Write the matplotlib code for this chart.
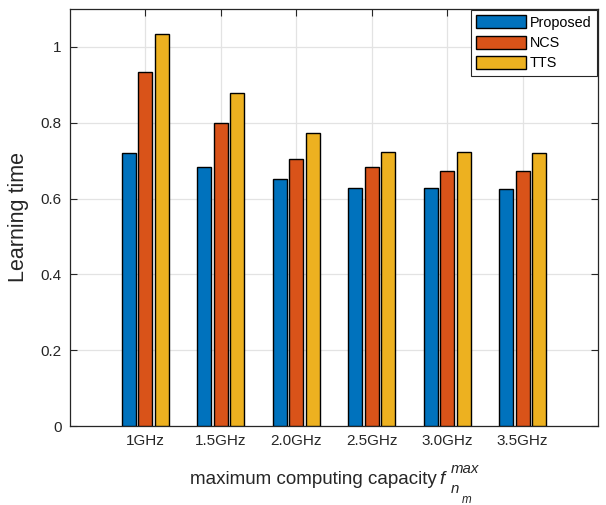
import matplotlib
matplotlib.use("Agg")
import matplotlib.pyplot as plt
import numpy as np

categories = ["1GHz", "1.5GHz", "2.0GHz", "2.5GHz", "3.0GHz", "3.5GHz"]
proposed = [0.720, 0.683, 0.651, 0.628, 0.627, 0.626]
ncs = [0.934, 0.800, 0.703, 0.683, 0.672, 0.672]
tts = [1.033, 0.879, 0.773, 0.723, 0.722, 0.720]
series_names = ["Proposed", "NCS", "TTS"]
series_colors = ["#0072BD", "#D95319", "#EDB120"]
y_ticks = [0, 0.2, 0.4, 0.6, 0.8, 1.0]
y_tick_labels = ["0", "0.2", "0.4", "0.6", "0.8", "1"]

plt.rcParams["font.family"] = ["Liberation Sans", "DejaVu Sans"]

axis_color = "#262626"
W, H = 606, 505

fig = plt.figure(figsize=(W / 100, H / 100), dpi=100)
ax = fig.add_axes([70 / W, 1 - 426 / H, 528 / W, 417 / H])

x = np.arange(1, len(categories) + 1)
offset = 0.22
width = 0.186
for i, (vals, name, col) in enumerate(zip([proposed, ncs, tts], series_names, series_colors)):
    ax.bar(x + (i - 1) * offset, vals, width, color=col, edgecolor="black",
           linewidth=1.0, label=name, zorder=3)

ax.set_xlim(0, 7)
ax.set_ylim(0, 1.1)
ax.set_xticks(x)
ax.set_xticklabels(categories)
ax.set_yticks(y_ticks)
ax.set_yticklabels(y_tick_labels)

ax.grid(True, color="#e3e3e3", linewidth=0.9, zorder=0)
ax.set_axisbelow(True)
ax.tick_params(direction="in", length=5, width=0.8, color=axis_color,
               labelcolor=axis_color, labelsize=11, top=True, right=True, pad=6)
for s in ax.spines.values():
    s.set_color(axis_color)
    s.set_linewidth(0.9)

ax.set_ylabel("Learning time", fontsize=15.5, color=axis_color, labelpad=8)


def px(xp, yp):
    return xp / W, 1 - yp / H


# x-axis label with the f_{n_m}^{max} symbol set piece by piece
fig.text(*px(436.5, 483.5), "maximum computing capacity", fontsize=13.5, color=axis_color,
         ha="right", va="baseline")
fig.text(*px(439, 484), "f", fontsize=13.5, color=axis_color, style="italic",
         ha="left", va="baseline")
fig.text(*px(450.5, 472.7), "max", fontsize=10.8, color=axis_color, style="italic",
         ha="left", va="baseline")
fig.text(*px(450.5, 492.7), "n", fontsize=10.8, color=axis_color, style="italic",
         ha="left", va="baseline")
fig.text(*px(461.5, 503.3), "m", fontsize=8.4, color=axis_color, style="italic",
         ha="left", va="baseline")

leg = ax.legend(loc="upper right", fontsize=10.4, handlelength=3.4, handleheight=1.0,
                handletextpad=0.3, labelspacing=0.4, borderpad=0.4, borderaxespad=0.05,
                fancybox=False, framealpha=1, edgecolor=axis_color)
leg.get_frame().set_linewidth(0.8)

fig.savefig("out.png", dpi=100)
